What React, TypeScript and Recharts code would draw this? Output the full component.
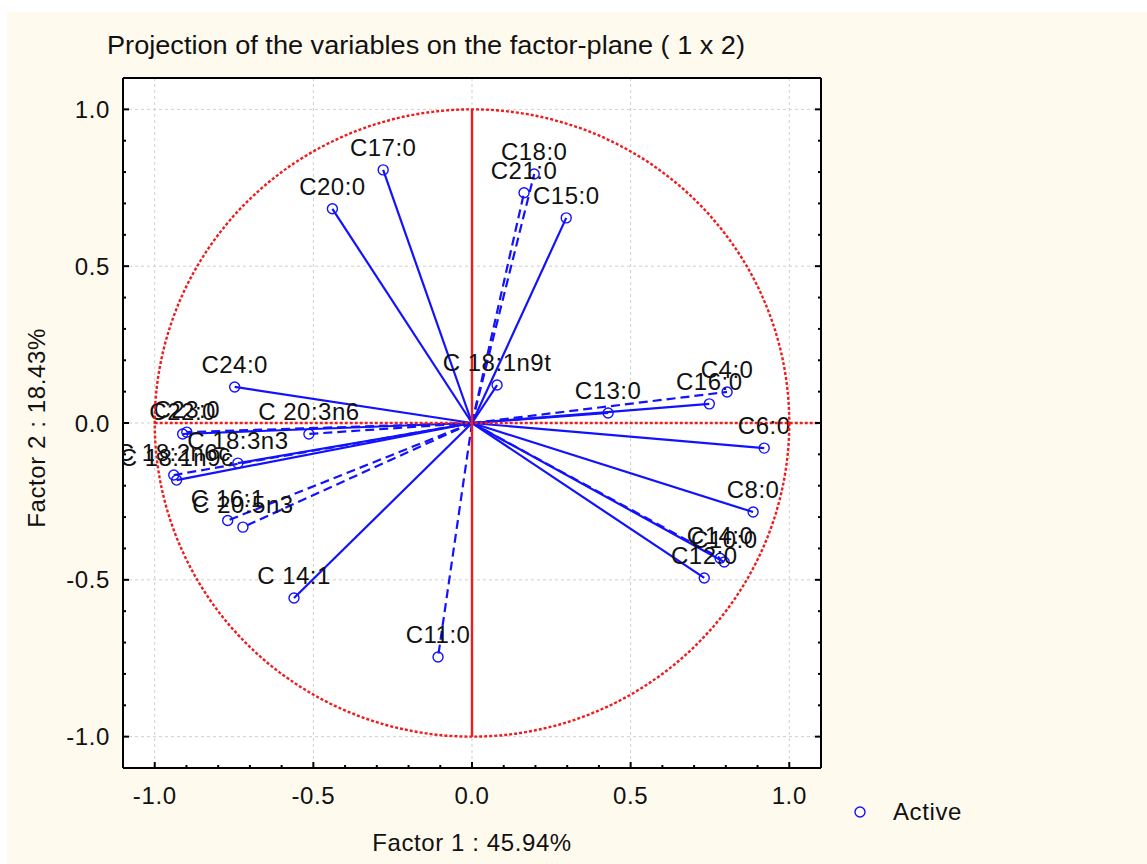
import React from "react";
import {
  ComposedChart,
  XAxis,
  YAxis,
  CartesianGrid,
  Scatter,
  ReferenceLine,
  ReferenceDot,
} from "recharts";

// variables and their coordinates on the factor plane
const varNames = [
  "C17:0", "C20:0", "C18:0", "C21:0", "C15:0", "C 18:1n9t", "C24:0",
  "C22:0", "C23:0", "C 20:3n6", "C 18:3n3", "C 18:2n6c", "C 18:1n9c",
  "C 16:1", "C 20:5n3", "C 14:1", "C11:0", "C13:0", "C16:0", "C4:0",
  "C6:0", "C8:0", "C10:0", "C14:0", "C12:0",
];
const factor1 = [
  -0.28, -0.44, 0.196, 0.164, 0.297, 0.079, -0.748,
  -0.912, -0.899, -0.514, -0.738, -0.94, -0.931,
  -0.77, -0.722, -0.561, -0.107, 0.429, 0.748, 0.804,
  0.921, 0.886, 0.795, 0.782, 0.732,
];
const factor2 = [
  0.807, 0.683, 0.794, 0.734, 0.654, 0.121, 0.115,
  -0.035, -0.029, -0.035, -0.128, -0.166, -0.182,
  -0.311, -0.332, -0.558, -0.746, 0.032, 0.061, 0.099,
  -0.08, -0.284, -0.443, -0.431, -0.494,
];
const dashedVars = [
  "C18:0", "C21:0", "C23:0", "C 20:3n6", "C 18:2n6c", "C 16:1",
  "C 20:5n3", "C11:0", "C4:0", "C14:0",
];
const axisTicks = [
  -1.0, -0.9, -0.8, -0.7, -0.6, -0.5, -0.4, -0.3, -0.2, -0.1, 0.0,
  0.1, 0.2, 0.3, 0.4, 0.5, 0.6, 0.7, 0.8, 0.9, 1.0,
];
const majorTicks = [-1.0, -0.5, 0.0, 0.5, 1.0];
const gridValues = [-1.0, -0.5, 0.0, 0.5, 1.0];

const W = 1147;
const H = 864;
const PLOT_W = 698;
const PLOT_H = 690;
const DOMAIN: [number, number] = [-1.1, 1.1];
const BLUE = "#1212ff";
const RED = "#ee1c1c";
const FONT = '"Liberation Sans", Arial, sans-serif';
const TEXT = "#111";

const points = varNames.map((name, i) => ({ name, x: factor1[i], y: factor2[i] }));

const isMajor = (v: number) => majorTicks.some((m) => Math.abs(m - v) < 1e-6);

const makeTick = (side: "bottom" | "top" | "left" | "right") => (props: any) => {
  const { x, y, payload } = props;
  const v = payload.value as number;
  const len = isMajor(v) ? 6 : 3;
  const label = isMajor(v) ? v.toFixed(1) : null;
  let line;
  if (side === "bottom") line = <line x1={x} y1={y} x2={x} y2={y - len} />;
  else if (side === "top") line = <line x1={x} y1={y} x2={x} y2={y + len} />;
  else if (side === "left") line = <line x1={x} y1={y} x2={x + len} y2={y} />;
  else line = <line x1={x} y1={y} x2={x - len} y2={y} />;
  return (
    <g>
      <g stroke="#000" strokeWidth={2}>{line}</g>
      {label && side === "bottom" && (
        <text x={x} y={y + 36} textAnchor="middle" fontSize={24} letterSpacing={0.6} fill={TEXT} fontFamily={FONT}>
          {label}
        </text>
      )}
      {label && side === "left" && (
        <text x={x - 13} y={y} dy="0.36em" textAnchor="end" fontSize={24} letterSpacing={0.6} fill={TEXT} fontFamily={FONT}>
          {label}
        </text>
      )}
    </g>
  );
};

const VarPoint = (props: any) => {
  const { cx, cy, payload } = props;
  return (
    <g>
      <circle cx={cx} cy={cy} r={5} fill="none" stroke={BLUE} strokeWidth={1.4} />
      <text x={cx} y={cy - 14} textAnchor="middle" fontSize={24} letterSpacing={0.5} fill={TEXT} fontFamily={FONT}>
        {payload.name}
      </text>
    </g>
  );
};

export default function App() {
  return (
    <div style={{ position: "absolute", left: 0, top: 0, width: W, height: H, background: "#fff", overflow: "hidden" }}>
      <div style={{ position: "absolute", left: 7, top: 12, right: 0, bottom: 0, background: "#fffaee" }} />
      <div style={{ position: "absolute", left: 0, top: 0 }}>
        <ComposedChart width={W} height={H} margin={{ top: 68, right: 316, bottom: 56, left: 63 }}>
          <CartesianGrid
            fill="#fff"
            stroke="#cfcfcf"
            strokeDasharray="3 3"
            horizontalValues={gridValues}
            verticalValues={gridValues}
          />
          <XAxis
            type="number"
            dataKey="x"
            domain={DOMAIN}
            ticks={axisTicks}
            allowDataOverflow
            interval={0}
            height={40}
            tickSize={0}
            tickMargin={0}
            tickLine={false}
            axisLine={{ stroke: "#000", strokeWidth: 2 }}
            tick={makeTick("bottom")}
          />
          <XAxis
            xAxisId="top"
            orientation="top"
            type="number"
            domain={DOMAIN}
            ticks={axisTicks}
            allowDataOverflow
            interval={0}
            height={10}
            tickSize={0}
            tickMargin={0}
            tickLine={false}
            axisLine={{ stroke: "#000", strokeWidth: 2 }}
            tick={makeTick("top")}
          />
          <YAxis
            type="number"
            dataKey="y"
            domain={DOMAIN}
            ticks={axisTicks}
            allowDataOverflow
            interval={0}
            width={60}
            tickSize={0}
            tickMargin={0}
            tickLine={false}
            axisLine={{ stroke: "#000", strokeWidth: 2 }}
            tick={makeTick("left")}
          />
          <YAxis
            yAxisId="right"
            orientation="right"
            type="number"
            domain={DOMAIN}
            ticks={axisTicks}
            allowDataOverflow
            interval={0}
            width={10}
            tickSize={0}
            tickMargin={0}
            tickLine={false}
            axisLine={{ stroke: "#000", strokeWidth: 2 }}
            tick={makeTick("right")}
          />
          {points.map((p) => (
            <ReferenceLine
              key={"v-" + p.name}
              segment={[{ x: 0, y: 0 }, { x: p.x, y: p.y }]}
              stroke={BLUE}
              strokeWidth={2.2}
              strokeDasharray={dashedVars.includes(p.name) ? "9 5" : undefined}
              ifOverflow="visible"
            />
          ))}
          <Scatter data={points} shape={<VarPoint />} isAnimationActive={false} />
          <ReferenceDot
            x={0}
            y={0}
            r={1}
            ifOverflow="visible"
            shape={(props: any) => (
              <ellipse
                cx={props.cx}
                cy={props.cy}
                rx={PLOT_W / 2.2}
                ry={PLOT_H / 2.2}
                fill="none"
                stroke={RED}
                strokeWidth={2.4}
                strokeDasharray="3 2"
              />
            )}
          />
          <ReferenceLine segment={[{ x: 0, y: -1 }, { x: 0, y: 1 }]} stroke={RED} strokeWidth={2.4} ifOverflow="visible" />
          <ReferenceLine
            segment={[{ x: -1, y: 0 }, { x: 1.1, y: 0 }]}
            stroke={RED}
            strokeWidth={2.6}
            strokeDasharray="3 2"
            ifOverflow="visible"
          />
        </ComposedChart>
      </div>
      <svg width={W} height={H} style={{ position: "absolute", left: 0, top: 0, pointerEvents: "none" }} fontFamily={FONT}>
        <text x={107} y={54} fontSize={25} fill={TEXT} textLength={638} lengthAdjust="spacingAndGlyphs">
          Projection of the variables on the factor-plane (  1 x   2)
        </text>
        <text x={472} y={851} textAnchor="middle" fontSize={24} letterSpacing={0.6} fill={TEXT}>
          Factor 1 : 45.94%
        </text>
        <text
          x={0}
          y={0}
          transform="translate(45 428) rotate(-90)"
          textAnchor="middle"
          fontSize={24}
          letterSpacing={0.6}
          fill={TEXT}
        >
          Factor 2 : 18.43%
        </text>
        <circle cx={860} cy={812} r={5} fill="none" stroke={BLUE} strokeWidth={1.4} />
        <text x={893} y={820} fontSize={24} letterSpacing={0.6} fill={TEXT}>
          Active
        </text>
      </svg>
    </div>
  );
}
